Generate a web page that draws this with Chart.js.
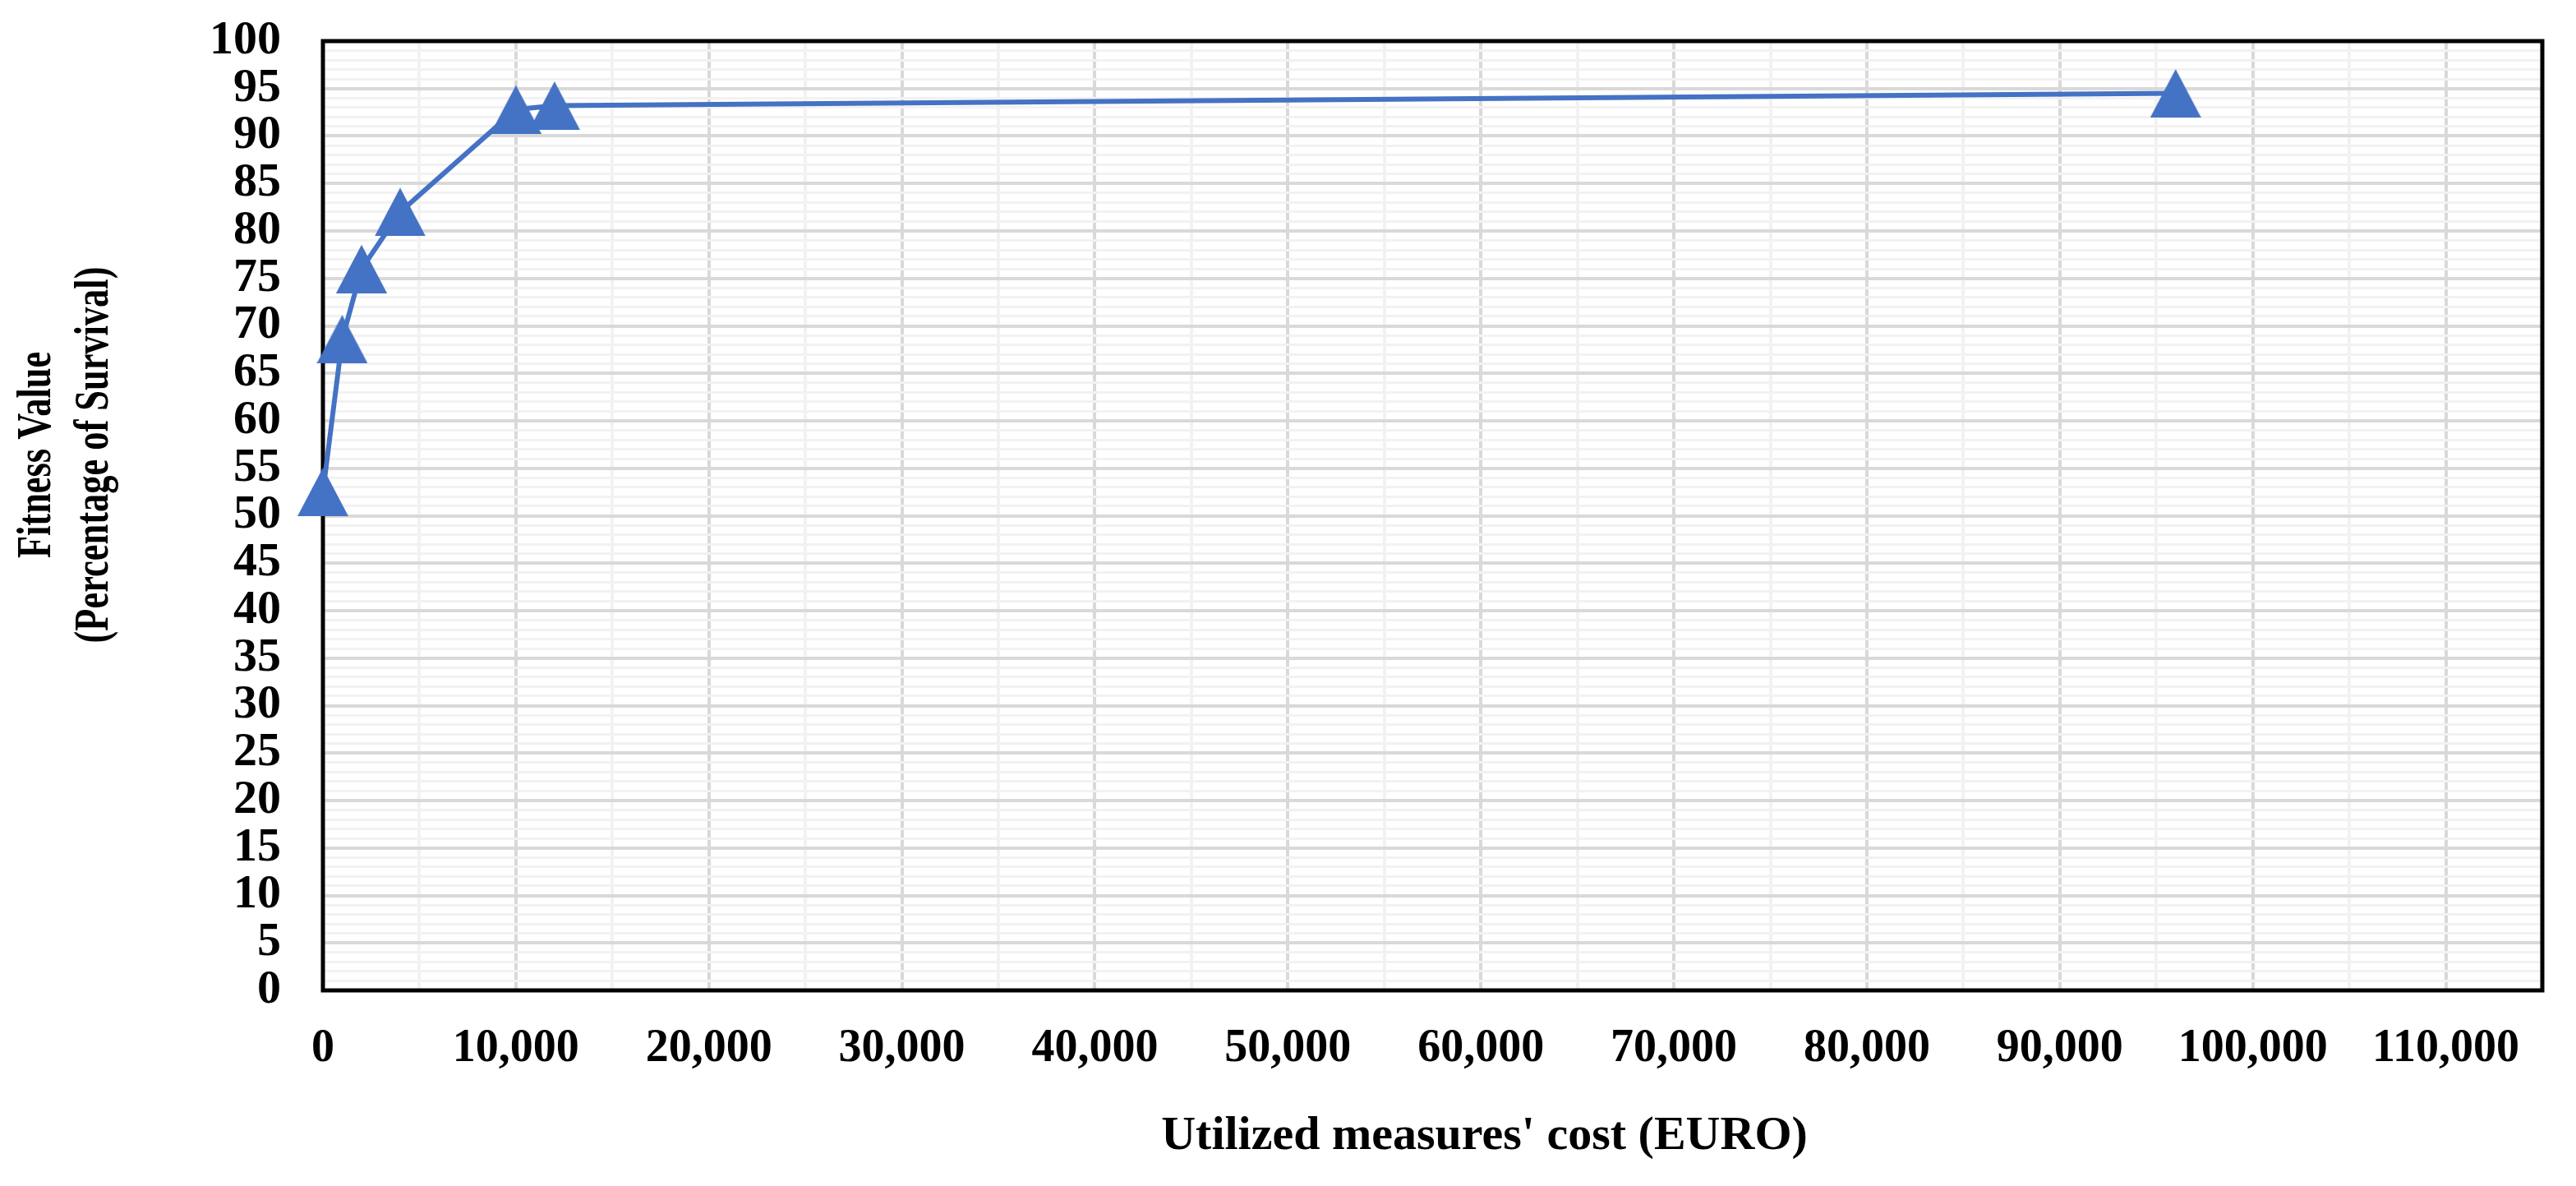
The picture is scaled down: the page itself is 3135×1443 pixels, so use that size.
<!DOCTYPE html>
<html>
<head>
<meta charset="utf-8">
<title>Fitness value vs utilized measures' cost</title>
<script src="https://cdn.jsdelivr.net/npm/chart.js@4.4.1/dist/chart.umd.min.js"></script>
<style>
  html, body { margin: 0; padding: 0; background: #fff; }
  #chart { display: block; }
</style>
</head>
<body>
<canvas id="chart" width="3135" height="1443"></canvas>
<script>
// values
const costEuro = [0, 1000, 2000, 4000, 10000, 12000, 96000];
const fitness = [52.5, 68.6, 76.0, 82.0, 92.8, 93.2, 94.5];

// axis settings
const xMin = 0, xMax = 115000, xMinorStep = 5000, xLabelStep = 10000;
const yMin = 0, yMax = 100, yMinorStep = 1, yLabelStep = 5;
const xTitle = "Utilized measures' cost (EURO)";
const yTitle = ["Fitness Value", "(Percentage of Survival)"];

const BLUE = "#4472C4";
const FONT = "'Liberation Serif', 'Times New Roman', serif";

// Excel-like triangle marker: centred on its bounding box, not its centroid
function triangleMarker(w, h, color) {
    const c = document.createElement("canvas");
    c.width = w;
    c.height = h;
    const g = c.getContext("2d");
    g.fillStyle = color;
    g.beginPath();
    g.moveTo(w / 2, 0);
    g.lineTo(w, h);
    g.lineTo(0, h);
    g.closePath();
    g.fill();
    return c;
}

// squeeze / shift the text a scale draws in one of its methods
function squeezeText(scale, method, sx, dx) {
    const flag = "_sq_" + method;
    if (!scale || scale[flag]) return;
    scale[flag] = true;
    const orig = scale[method];
    scale[method] = function (...args) {
        const ctx = this.ctx;
        ctx.fillText = function (text, x, y) {
            this.save();
            this.translate(x + dx, y);
            this.scale(sx, 1);
            CanvasRenderingContext2D.prototype.fillText.call(this, text, 0, 0);
            this.restore();
        };
        try {
            orig.apply(this, args);
        } finally {
            delete ctx.fillText;
        }
    };
}

// fixed box sizes so the plot area lands where it is in the picture
function fixBox(s, size) {
    if (s.isHorizontal()) s.height = size;
    else s.width = size;
    s.paddingTop = 0;
    s.paddingBottom = 0;
    s.paddingLeft = 0;
    s.paddingRight = 0;
}

const framePlugin = {
    id: "frame",
    beforeDraw(chart) {
        squeezeText(chart.scales.x, "drawTitle", 1, 63);
        squeezeText(chart.scales.y, "drawTitle", 0.74, 74);
    },
    beforeDatasetsDraw(chart) {
        const { ctx, chartArea: a } = chart;
        ctx.save();
        ctx.strokeStyle = "#000";
        ctx.lineWidth = 5;
        ctx.strokeRect(a.left, a.top, a.right - a.left, a.bottom - a.top);
        ctx.restore();
    },
};

const points = costEuro.map((c, i) => ({ x: c, y: fitness[i] }));
const marker = triangleMarker(62, 59, BLUE);

new Chart(document.getElementById("chart"), {
    type: "line",
    data: {
        datasets: [
            {
                label: "Fitness",
                data: points,
                borderColor: BLUE,
                backgroundColor: BLUE,
                borderWidth: 6,
                tension: 0,
                pointStyle: marker,
                pointRadius: 31,
                pointHoverRadius: 31,
                clip: false,
            },
        ],
    },
    options: {
        responsive: false,
        devicePixelRatio: 1,
        animation: false,
        layout: { padding: { left: 0, top: 50, right: 41, bottom: 0 } },
        plugins: {
            legend: { display: false },
            tooltip: { enabled: false },
        },
        scales: {
            x: {
                type: "linear",
                min: xMin,
                max: xMax,
                afterFit: (s) => fixBox(s, 238),
                border: { display: false },
                grid: {
                    drawTicks: false,
                    color: (c) => (c.tick && c.tick.value % xLabelStep === 0 ? "#d9d9d9" : "#f2f2f2"),
                    lineWidth: 4,
                },
                ticks: {
                    stepSize: xMinorStep,
                    autoSkip: false,
                    maxRotation: 0,
                    padding: 38,
                    color: "#000",
                    font: { family: FONT, size: 56, weight: "bold" },
                    callback: (v) => (v % xLabelStep === 0 ? v.toLocaleString("en-US") : ""),
                },
                title: {
                    display: true,
                    text: xTitle,
                    color: "#000",
                    font: { family: FONT, size: 58, weight: "bold", lineHeight: 1.2 },
                    padding: { top: 0, bottom: 25 },
                },
            },
            y: {
                type: "linear",
                min: yMin,
                max: yMax,
                afterFit: (s) => fixBox(s, 393),
                border: { display: false },
                grid: {
                    drawTicks: false,
                    color: (c) => (c.tick && c.tick.value % yLabelStep === 0 ? "#d9d9d9" : "#f2f2f2"),
                    lineWidth: (c) => (c.tick && c.tick.value % yLabelStep === 0 ? 4 : 3),
                },
                ticks: {
                    stepSize: yMinorStep,
                    autoSkip: false,
                    padding: 51,
                    color: "#000",
                    font: { family: FONT, size: 58, weight: "bold" },
                    callback: (v) => (v % yLabelStep === 0 ? String(v) : ""),
                },
                title: {
                    display: true,
                    text: yTitle,
                    color: "#000",
                    font: { family: FONT, size: 60, weight: "bold", lineHeight: 70 / 60 },
                    padding: { top: 10, bottom: 0 },
                },
            },
        },
    },
    plugins: [framePlugin],
});
</script>
</body>
</html>
